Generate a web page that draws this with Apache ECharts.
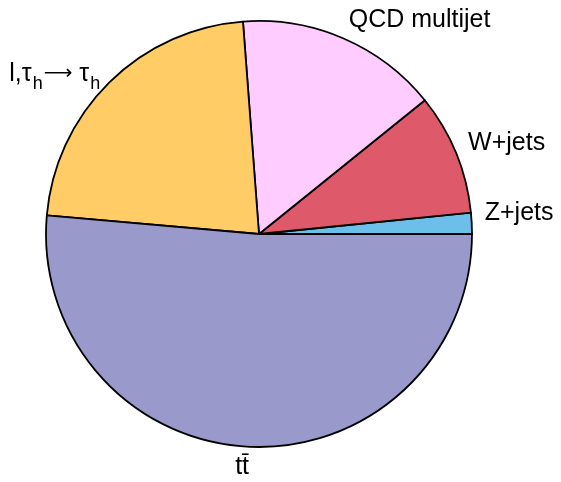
<!DOCTYPE html>
<html lang="en">

<head>
    <meta charset="UTF-8">
    <title>Pie</title>
    <script src="https://cdn.jsdelivr.net/npm/echarts@6/dist/echarts.min.js"></script>
    <style>
        body { margin: 0; background: #fff; }
        #main { width: 561px; height: 482px; }
    </style>
</head>

<body>
    <div id="main"></div>

    <script>
        // slices, counterclockwise from 3 o'clock
        const categories = ['Z+jets', 'W+jets', 'QCD multijet', 'ltau', 'ttbar'];
        const values = [1.6, 9.2, 15.4, 22.4, 51.4];
        const labels = ['Z+jets', 'W+jets', 'QCD multijet', '{a|l,τ}{s|h}{r|⟶}{a|\u00a0τ}{s|h}', 'tt\u0304'];
        const colors = ['#6BBFEA', '#DE5A6A', '#FFCCFF', '#FFCC66', '#9999CC'];
        // small vertical nudges of the outside labels
        const labelDy = [-10, -5, -6, 1, 7];

        var myChart = echarts.init(document.getElementById('main'));

        const font = 'Liberation Sans, Arial, sans-serif';
        var option = {
            animation: false,
            series: [{
                type: 'pie',
                center: [259, 234],
                radius: 213,
                startAngle: 0,
                clockwise: false,
                avoidLabelOverlap: false,
                data: categories.map((c, i) => ({
                    name: c,
                    value: values[i],
                    itemStyle: { color: colors[i] }
                })),
                itemStyle: { borderColor: '#000', borderWidth: 1.8 },
                label: {
                    show: true,
                    position: 'outside',
                    formatter: p => labels[p.dataIndex],
                    color: '#000',
                    fontFamily: font,
                    fontSize: 25,
                    distanceToLabelLine: 0,
                    rich: {
                        a: { fontSize: 25, color: '#000', fontFamily: font },
                        s: { fontSize: 18, color: '#000', fontFamily: font, padding: [19, 0, 0, 1] },
                        r: { fontSize: 20, color: '#000', fontFamily: 'DejaVu Sans', padding: [0, 0, 0, 1] }
                    }
                },
                labelLine: { show: false, length: 13, length2: 0 },
                labelLayout: p => ({ dy: labelDy[p.dataIndex] }),
                emphasis: { disabled: true }
            }]
        };

        myChart.setOption(option);
    </script>
</body>

</html>
